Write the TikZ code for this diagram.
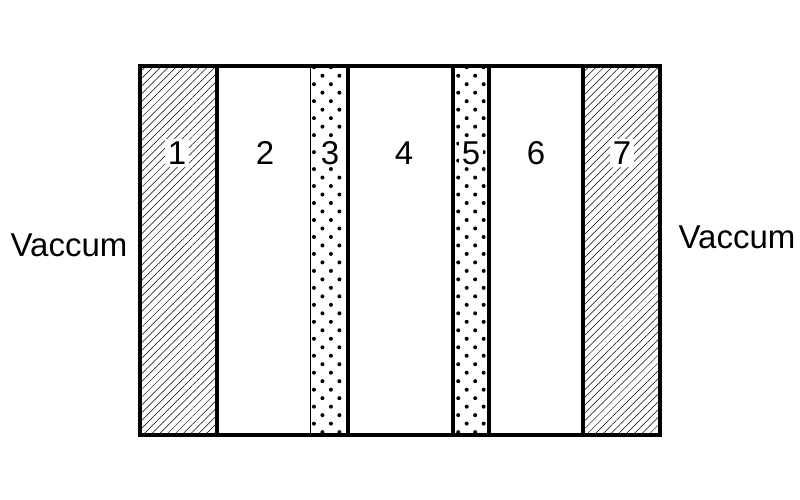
\documentclass[tikz,border=0pt]{standalone}
\usepackage{fontspec}
\setmainfont{Liberation Sans}
\usetikzlibrary{patterns.meta}

\begin{document}
\begin{tikzpicture}[
    x=1pt, y=-1pt,
    wall/.style={line width=3.5pt},
    hatchfill/.style={pattern={Lines[angle=45, distance=5.5pt, line width=0.5pt]}},
    dotfill/.style={pattern={Dots[angle=45, distance=12pt, radius=2pt]}},
    num/.style={fill=white, inner sep=2.5pt, font=\fontsize{33}{38}\selectfont},
    vac/.style={inner sep=0pt, font=\fontsize{33}{38}\selectfont}
  ]
    \useasboundingbox (0,0) rectangle (800,500);

    \fill[hatchfill] (140,66) rectangle (217,435);
    \fill[hatchfill] (583,66) rectangle (660,435);
    \fill[dotfill] (310,66) rectangle (348,435);
    \fill[dotfill] (453,66) rectangle (489,435);

    \draw[line width=1pt] (310,66) -- (310,435);
    \foreach \x in {217,348,453,489,583}
      \draw[wall] (\x,66) -- (\x,435);
    \draw[wall] (140,66) rectangle (660,435);

    \node[num] (l1) at (177,153) {1};
    \node[num, fill=none] (l2) at (265,153) {2};
    \node[num] (l3) at (330,153) {3};
    \node[num, fill=none] (l4) at (404,153) {4};
    \node[num] (l5) at (471,153) {5};
    \node[num, fill=none] (l6) at (536,153) {6};
    \node[num] (l7) at (622,153) {7};

    \node[vac] (vacl) at (69,245) {Vaccum};
    \node[vac] (vacr) at (737,237) {Vaccum};
  \end{tikzpicture}
\end{document}
